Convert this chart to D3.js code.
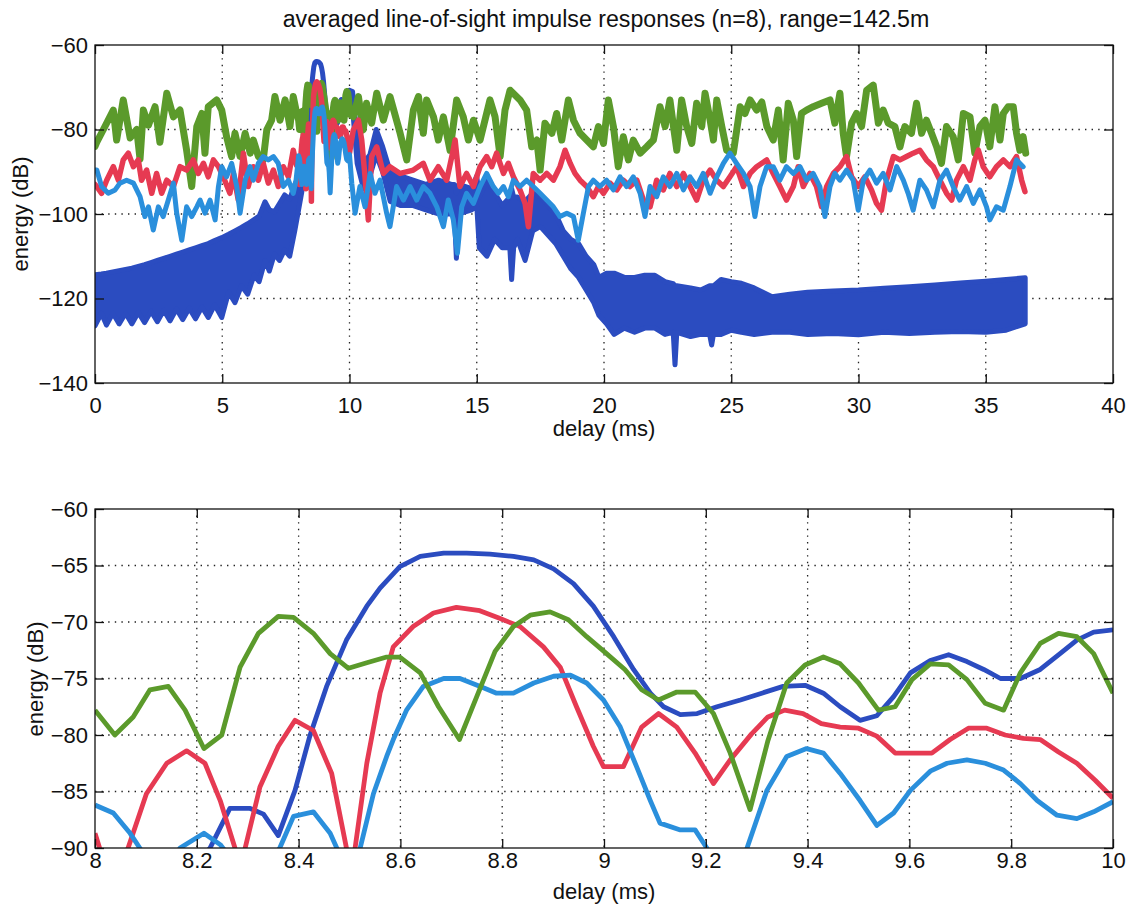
<!DOCTYPE html>
<html><head><meta charset="utf-8">
<script src="https://cdn.jsdelivr.net/npm/d3@7"></script>
<style>
body{margin:0;background:#fff}
svg{display:block}
text{font-family:"Liberation Sans",Arial,Helvetica,sans-serif;fill:#111}
</style>
</head><body>
<svg id="c" width="1128" height="906"></svg>
<script>
// ---------------- DATA ----------------
const titleText = "averaged line-of-sight impulse responses (n=8), range=142.5m";
const xLabel = "delay (ms)";
const yLabel = "energy (dB)";
const topXTicks = [0,5,10,15,20,25,30,35,40];
const topYTicks = [-140,-120,-100,-80,-60];
const botXTicks = [8,8.2,8.4,8.6,8.8,9,9.2,9.4,9.6,9.8,10];
const botYTicks = [-90,-85,-80,-75,-70,-65,-60];

// zoomed window 8..10 ms (used for both panels)
const greenZoom = [[8.0,-77.8],[8.039,-80],[8.075,-78.4],[8.108,-76],[8.144,-75.7],[8.177,-77.8],[8.214,-81.2],[8.249,-80],[8.285,-74],[8.321,-71],[8.36,-69.5],[8.39,-69.6],[8.429,-71],[8.462,-72.8],[8.498,-74.1],[8.534,-73.6],[8.573,-73.1],[8.599,-73.1],[8.639,-74.5],[8.675,-77.5],[8.716,-80.4],[8.75,-76.6],[8.786,-72.6],[8.822,-70.4],[8.855,-69.4],[8.894,-69.1],[8.93,-69.8],[8.966,-71.3],[9.005,-72.8],[9.041,-74.2],[9.074,-76],[9.107,-76.9],[9.143,-76.2],[9.179,-76.2],[9.215,-78.1],[9.248,-81.6],[9.287,-86.6],[9.322,-80.5],[9.359,-75.4],[9.395,-73.8],[9.431,-73.1],[9.464,-73.7],[9.5,-75.4],[9.539,-77.8],[9.572,-77.5],[9.605,-75.1],[9.641,-73.7],[9.677,-73.8],[9.713,-75.1],[9.749,-77.2],[9.785,-77.8],[9.818,-74.5],[9.857,-71.9],[9.893,-71],[9.929,-71.3],[9.962,-72.8],[10.0,-76.3]];
const redZoom = [[8.0,-88.7],[8.03,-93],[8.065,-90],[8.101,-85.2],[8.141,-82.5],[8.18,-81.4],[8.216,-82.5],[8.246,-85.8],[8.275,-90],[8.285,-94],[8.295,-90],[8.324,-84.6],[8.36,-81],[8.393,-78.7],[8.429,-79.6],[8.465,-83.4],[8.494,-90],[8.503,-97],[8.511,-90],[8.534,-82.5],[8.56,-76.3],[8.586,-72.2],[8.625,-70.4],[8.665,-69.2],[8.71,-68.7],[8.756,-69],[8.796,-69.7],[8.835,-70.4],[8.881,-72.2],[8.914,-74],[8.946,-77.5],[8.979,-81],[8.999,-82.8],[9.038,-82.8],[9.074,-79.3],[9.107,-78.1],[9.143,-79.3],[9.179,-81.6],[9.215,-84.3],[9.248,-82.2],[9.29,-79.9],[9.322,-78.4],[9.355,-77.8],[9.391,-78.1],[9.427,-79],[9.464,-79.3],[9.5,-79.4],[9.536,-80.1],[9.572,-81.6],[9.608,-81.6],[9.644,-81.6],[9.68,-80.4],[9.716,-79.4],[9.752,-79.4],[9.788,-80],[9.824,-80.3],[9.857,-80.4],[9.893,-81.5],[9.929,-82.5],[9.965,-84],[10.0,-85.6]];
const darkZoom = [[8.0,-96],[8.1,-94],[8.18,-92.5],[8.226,-90],[8.265,-86.5],[8.305,-86.5],[8.331,-87],[8.36,-88.9],[8.393,-84.9],[8.422,-80.1],[8.455,-75.7],[8.494,-71.6],[8.534,-68.6],[8.56,-67],[8.599,-65.1],[8.639,-64.2],[8.685,-63.9],[8.73,-63.9],[8.776,-64],[8.822,-64.2],[8.862,-64.5],[8.901,-65.3],[8.94,-66.6],[8.979,-68.6],[9.019,-71.3],[9.058,-74.2],[9.091,-76.3],[9.117,-77.5],[9.15,-78.2],[9.183,-78.1],[9.222,-77.5],[9.268,-76.9],[9.31,-76.3],[9.352,-75.7],[9.395,-75.6],[9.431,-76.3],[9.464,-77.5],[9.503,-78.7],[9.536,-78.3],[9.569,-76.6],[9.602,-74.5],[9.641,-73.4],[9.677,-72.9],[9.713,-73.5],[9.746,-74.2],[9.779,-75],[9.818,-75],[9.857,-74.2],[9.896,-72.8],[9.929,-71.6],[9.962,-70.9],[10.0,-70.7]];
const lightZoom = [[8.0,-86.2],[8.036,-86.9],[8.069,-88.7],[8.088,-90],[8.13,-93],[8.167,-90],[8.214,-88.7],[8.246,-89.7],[8.26,-90.5],[8.31,-93],[8.363,-90],[8.39,-87.2],[8.429,-86.8],[8.462,-88.7],[8.475,-90],[8.5,-94],[8.521,-90],[8.547,-85.2],[8.573,-81.9],[8.586,-80.4],[8.612,-77.8],[8.645,-75.7],[8.685,-75],[8.717,-75],[8.757,-75.7],[8.789,-76.3],[8.822,-76.3],[8.862,-75.4],[8.901,-74.8],[8.934,-74.7],[8.966,-75.4],[8.999,-76.9],[9.032,-79.3],[9.064,-82.8],[9.091,-85.8],[9.11,-87.8],[9.15,-88.4],[9.179,-88.4],[9.202,-90],[9.24,-95],[9.281,-90],[9.32,-84.9],[9.359,-81.9],[9.398,-81.2],[9.431,-81.6],[9.464,-83.4],[9.503,-85.8],[9.536,-88],[9.569,-86.9],[9.602,-84.9],[9.641,-83.2],[9.674,-82.5],[9.713,-82.2],[9.749,-82.5],[9.785,-83.1],[9.818,-84.3],[9.851,-85.8],[9.89,-87.1],[9.929,-87.4],[9.962,-86.8],[10.0,-85.9]];

// full 0..36.6 ms panel (outside the 8..10 window)
const greenPre = [[0,-84],[0.07,-83],[0.33,-80],[0.72,-75.4],[0.85,-82.5],[1.11,-73],[1.38,-82],[1.64,-80],[1.77,-87],[1.9,-75.4],[2.1,-79],[2.36,-74.6],[2.55,-83],[2.82,-71.4],[3.08,-77],[3.34,-75.4],[3.6,-84.9],[3.8,-93.5],[4.0,-79.3],[4.2,-76.2],[4.32,-85.6],[4.45,-74.6],[4.78,-73],[4.98,-75.4],[5.17,-81.7],[5.37,-86.4],[5.5,-80.9],[5.7,-86.4],[5.9,-80.9],[6.1,-85.6],[6.22,-82.5],[6.42,-86.4],[6.61,-87.2],[6.75,-80.1],[6.94,-77.8],[7.07,-72.2],[7.27,-77.8],[7.47,-73],[7.66,-79.3],[7.79,-72.2],[7.92,-76]];
const greenPost = [[10.15,-77],[10.35,-72.2],[10.54,-80.1],[10.67,-73.8],[10.87,-78.5],[11.07,-71.4],[11.33,-77.8],[11.59,-72.2],[11.99,-80.9],[12.25,-87.2],[12.51,-75.4],[12.71,-72.2],[12.9,-80.9],[13.03,-73],[13.3,-77],[13.49,-82.5],[13.69,-77],[13.95,-84.9],[14.21,-73],[14.47,-77],[14.67,-82.5],[14.87,-77.8],[15.13,-82.5],[15.52,-73],[15.72,-77],[15.92,-86.4],[16.11,-75.4],[16.31,-70.7],[16.7,-73],[16.96,-75.4],[17.16,-84.1],[17.36,-82.5],[17.49,-89.6],[17.68,-78.5],[17.95,-80.9],[18.14,-76.2],[18.34,-82.5],[18.6,-73],[18.8,-77.8],[19.06,-80.9],[19.32,-82.5],[19.58,-84.1],[19.78,-79.3],[19.98,-83.3],[20.17,-73],[20.37,-79.3],[20.56,-88.8],[20.76,-81.7],[20.96,-87.2],[21.15,-82.5],[21.42,-85.6],[21.68,-84.1],[21.94,-82.5],[22.2,-74.6],[22.4,-79.3],[22.59,-73],[22.73,-79.3],[22.86,-84.9],[23.05,-73],[23.25,-79.3],[23.45,-83.3],[23.64,-73.8],[23.84,-79.3],[23.97,-71.4],[24.17,-77.8],[24.3,-82.5],[24.43,-73],[24.63,-79.3],[24.82,-84.9],[25.08,-85.6],[25.35,-74.6],[25.54,-76.2],[25.74,-73],[26.0,-75.4],[26.2,-73.5],[26.4,-79.3],[26.65,-82.5],[26.85,-75.4],[27.04,-87.2],[27.24,-73.8],[27.44,-77.8],[27.57,-86.4],[27.76,-76.2],[27.96,-75.4],[28.22,-74.6],[28.55,-73.8],[28.88,-73],[29.07,-78.5],[29.27,-71.4],[29.4,-80.9],[29.53,-86.4],[29.73,-78.5],[29.92,-76.2],[30.12,-79.3],[30.32,-70.7],[30.58,-69.5],[30.78,-78.5],[30.97,-75.4],[31.17,-78.5],[31.43,-79.3],[31.63,-84.1],[31.82,-79.3],[32.08,-80.9],[32.28,-73.8],[32.48,-80.9],[32.67,-77.8],[32.87,-80.9],[33.07,-84.1],[33.26,-88],[33.46,-79.3],[33.72,-81.7],[33.92,-87.2],[34.12,-76.2],[34.38,-77],[34.57,-85.6],[34.77,-79.3],[34.97,-77.8],[35.16,-84.1],[35.36,-74.6],[35.56,-82.5],[35.69,-76.2],[35.88,-74.6],[36.08,-74.6],[36.21,-80.9],[36.34,-84.9],[36.47,-81.7],[36.57,-85.6]];
const redPre = [[0,-93],[0.07,-93.5],[0.26,-95.1],[0.46,-92],[0.72,-88.8],[0.92,-92],[1.11,-87.2],[1.31,-85.6],[1.51,-88.8],[1.7,-87.2],[1.83,-92],[2.03,-89.6],[2.23,-95.1],[2.42,-90.4],[2.62,-95.1],[2.82,-92],[3.08,-93.5],[3.34,-88.8],[3.6,-89.6],[3.86,-87.2],[4.06,-90.4],[4.26,-88],[4.45,-91.2],[4.65,-87.2],[4.85,-88.8],[5.04,-91.2],[5.3,-95.1],[5.44,-90.4],[5.63,-96.7],[5.83,-85.6],[6.02,-93.5],[6.22,-88.8],[6.42,-92],[6.61,-88],[6.81,-92.7],[7.01,-89.6],[7.2,-93.5],[7.4,-88.8],[7.6,-91.2],[7.79,-84.9],[7.92,-88.5]];
const redPost = [[10.15,-80.1],[10.35,-77.8],[10.48,-82.5],[10.61,-91.2],[10.74,-101.4],[10.87,-86.4],[11.07,-84.1],[11.33,-90.4],[11.59,-88.8],[11.99,-90.4],[12.51,-89.6],[12.9,-88],[13.16,-92],[13.49,-88.8],[13.82,-92],[14.02,-86.4],[14.15,-82.5],[14.34,-93.5],[14.6,-90.4],[14.87,-93.5],[15.13,-88.8],[15.39,-86.4],[15.59,-88.8],[15.78,-85.6],[16.05,-90.4],[16.24,-88],[16.44,-91.2],[16.7,-94.3],[16.9,-97.5],[17.03,-103],[17.22,-90.4],[17.49,-92],[17.75,-90.4],[18.01,-92],[18.27,-88.8],[18.47,-84.9],[18.67,-88],[18.86,-90.4],[19.06,-92],[19.32,-93.5],[19.58,-95.9],[19.78,-93.5],[19.98,-95.1],[20.24,-92.7],[20.5,-94.3],[20.76,-92],[21.02,-93.5],[21.29,-92],[21.55,-96.7],[21.81,-98.3],[22.07,-92],[22.33,-94.3],[22.59,-90.4],[22.86,-93.5],[23.12,-90.4],[23.38,-93.5],[23.64,-96.7],[23.9,-92],[24.17,-89.6],[24.43,-92],[24.69,-93.5],[24.95,-91.2],[25.21,-88.8],[25.48,-93.5],[25.74,-90.4],[26.0,-88.8],[26.39,-87.2],[26.65,-90.4],[26.91,-93.5],[27.17,-96.7],[27.44,-93.5],[27.63,-88.8],[27.83,-93.5],[28.09,-90.4],[28.35,-93.5],[28.55,-98.3],[28.75,-93.5],[29.01,-90.4],[29.27,-88.8],[29.53,-86.4],[29.73,-91.2],[29.99,-93.5],[30.25,-91.2],[30.51,-94.3],[30.71,-97.5],[30.9,-99.1],[31.1,-92],[31.37,-86.4],[31.63,-87.2],[31.89,-86.4],[32.15,-85.6],[32.41,-84.9],[32.67,-87.2],[32.94,-88.8],[33.2,-92],[33.46,-95.1],[33.66,-96.7],[33.85,-92],[34.12,-88.8],[34.38,-92],[34.57,-87.2],[34.71,-84.9],[34.9,-88.8],[35.16,-91.2],[35.42,-88.8],[35.69,-87.2],[35.95,-88.8],[36.21,-86.4],[36.41,-92],[36.54,-94.7]];
const lightPre = [[0,-89.6],[0.07,-89.6],[0.26,-93.5],[0.52,-95.1],[0.79,-94.3],[0.98,-92.7],[1.24,-92],[1.51,-92.7],[1.77,-95.9],[1.96,-100.6],[2.1,-98.3],[2.29,-103.8],[2.49,-98.3],[2.68,-100.6],[2.88,-96.7],[3.08,-92.7],[3.21,-99.8],[3.41,-106.2],[3.6,-98.3],[3.8,-100.6],[4.0,-98.3],[4.13,-96.7],[4.32,-99.8],[4.52,-96.7],[4.72,-101.4],[4.85,-93.5],[4.98,-88.8],[5.17,-91.2],[5.37,-88],[5.57,-93.5],[5.7,-99.8],[5.9,-92],[6.09,-88.8],[6.22,-92],[6.42,-88],[6.61,-86.4],[6.81,-87.2],[7.01,-86.4],[7.2,-88],[7.4,-93.5],[7.6,-92],[7.79,-95.1],[7.9,-92]];
const lightPost = [[10.09,-92.7],[10.22,-99.8],[10.41,-93.5],[10.61,-98.3],[10.81,-90.4],[11.0,-95.1],[11.2,-92],[11.46,-99.8],[11.59,-103],[11.85,-93.5],[12.12,-96.7],[12.38,-93.5],[12.64,-96.7],[12.9,-93.5],[13.16,-95.1],[13.43,-98.3],[13.69,-103],[13.88,-96.7],[14.08,-101.4],[14.24,-109.3],[14.41,-98.3],[14.6,-95.1],[14.87,-97.5],[15.13,-93.5],[15.39,-90.4],[15.65,-93.5],[15.85,-95.1],[16.05,-93.5],[16.24,-95.9],[16.44,-92],[16.7,-93.5],[16.96,-92],[17.22,-93.5],[17.49,-95.1],[17.75,-96.7],[18.01,-98.3],[18.27,-100.6],[18.54,-99.8],[18.8,-100.6],[18.99,-106.2],[19.19,-99.8],[19.39,-93.5],[19.58,-92],[19.84,-93.5],[20.1,-92],[20.37,-94.3],[20.63,-91.2],[20.89,-93.5],[21.15,-91.2],[21.42,-95.1],[21.61,-100.6],[21.81,-93.5],[22.07,-95.9],[22.33,-91.2],[22.59,-93.5],[22.86,-90.4],[23.12,-94.3],[23.38,-91.2],[23.64,-93.5],[23.9,-90.4],[24.17,-95.1],[24.43,-91.2],[24.69,-88],[24.95,-85.6],[25.21,-88],[25.48,-90.4],[25.74,-93.5],[25.93,-100.6],[26.13,-93.5],[26.39,-88.8],[26.65,-88.8],[26.91,-92],[27.17,-88.8],[27.44,-90.4],[27.7,-88.8],[27.96,-92],[28.22,-90.4],[28.48,-93.5],[28.68,-100.6],[28.88,-93.5],[29.07,-90.4],[29.27,-92],[29.53,-89.6],[29.79,-92],[29.99,-99.1],[30.19,-92],[30.45,-89.6],[30.71,-92.7],[30.97,-90.4],[31.24,-94.3],[31.5,-88.8],[31.76,-92],[31.95,-95.1],[32.15,-99.1],[32.41,-92],[32.67,-94.3],[32.94,-98.3],[33.2,-92],[33.46,-89.6],[33.72,-93.5],[33.98,-96.7],[34.25,-93.5],[34.51,-97.5],[34.77,-94.3],[35.03,-98.3],[35.16,-101.4],[35.42,-98.3],[35.69,-99.1],[35.95,-93.5],[36.21,-87.2],[36.47,-88.8]];
// dark blue: fast-oscillating trace, given as [time, upper, lower] envelope
const darkBandPre = [[0,-114.4,-126.5],[0.25,-114.2,-123.5],[0.45,-114,-126.3],[0.7,-113.7,-123.5],[0.95,-113.4,-126],[1.2,-113.1,-123.5],[1.45,-112.8,-126],[1.7,-112.4,-123.3],[1.95,-112,-125.7],[2.2,-111.5,-123],[2.45,-111,-125.5],[2.7,-110.5,-122.8],[2.95,-110,-125.3],[3.2,-109.5,-122.5],[3.45,-109,-125],[3.7,-108.5,-122.3],[3.95,-108,-124.8],[4.2,-107.5,-122],[4.45,-107,-124.5],[4.7,-106.3,-121.5],[4.98,-105.6,-124.5],[5.25,-104.8,-118.5],[5.5,-104,-121],[5.75,-103.2,-117],[6.0,-102.3,-119],[6.25,-101.3,-114.5],[6.45,-100.5,-116],[6.68,-97.1,-111],[6.85,-99,-113.5],[7.05,-99.5,-109.5],[7.25,-97.5,-111],[7.45,-95.5,-108.5],[7.65,-96.5,-110],[7.85,-93,-104],[8.0,-91,-99],[8.12,-89,-95]];
const darkBandPost = [[10.12,-71,-75],[10.3,-82,-88],[10.55,-88,-94],[10.8,-86,-91],[11.05,-80,-86],[11.3,-84,-90],[11.6,-90,-97],[12.0,-91,-98],[12.5,-92,-98],[13.0,-93,-99],[13.5,-92,-100],[14.0,-93,-100],[14.12,-93,-100],[14.2,-95,-110.5],[14.3,-93,-100],[14.8,-94,-99],[15.0,-91,-98],[15.1,-96,-108],[15.4,-92,-110],[15.7,-95,-106],[16.0,-98,-108],[16.3,-96,-108],[16.37,-94,-115.5],[16.45,-96,-108],[16.6,-96,-106],[16.9,-97,-111],[17.2,-95,-104],[17.5,-96,-103],[17.8,-98,-105],[18.1,-100,-107],[18.4,-104,-110],[18.7,-106,-113],[19.0,-107,-115],[19.3,-110,-118],[19.6,-112,-121],[19.8,-115,-124],[20.1,-114,-126],[20.4,-114,-128.5],[20.8,-115,-127],[21.2,-115,-128],[21.6,-114.5,-127],[22.0,-114.5,-127],[22.4,-116,-128.5],[22.72,-116.5,-128],[22.79,-117,-135.7],[22.86,-117,-128],[23.4,-117.5,-129],[23.8,-118,-128.5],[24.15,-117,-128.5],[24.23,-117,-131],[24.3,-117,-128.5],[24.6,-115.5,-128.5],[25.0,-116,-127.5],[25.4,-116.4,-128],[25.9,-117.5,-128.5],[26.6,-119.6,-128],[27.3,-119,-128],[28.0,-118.5,-128.5],[29.0,-118.2,-128.3],[30.0,-118,-128.6],[31.0,-117.6,-128],[32.0,-117.2,-128.3],[33.0,-116.8,-128],[34.0,-116.3,-127.8],[35.0,-115.9,-128],[35.8,-115.5,-127.5],[36.55,-115.1,-126]];

// ---------------- DRAWING ----------------
const COL = {dark:"#2b4cc0", red:"#e63a52", green:"#5b9a2b", light:"#2a8fdc"};
const FONT = 22;
const svg = d3.select("#c");

const topBox = {l:95, r:1113, t:45, b:383};
const botBox = {l:95, r:1113, t:509, b:848};

const xTop = d3.scaleLinear().domain([0,40]).range([topBox.l, topBox.r]);
const yTop = d3.scaleLinear().domain([-140,-60]).range([topBox.b, topBox.t]);
const xBot = d3.scaleLinear().domain([8,10]).range([botBox.l, botBox.r]);
const yBot = d3.scaleLinear().domain([-90,-60]).range([botBox.b, botBox.t]);

const defs = svg.append("defs");
function clip(id, box){
  defs.append("clipPath").attr("id", id).append("rect")
    .attr("x", box.l).attr("y", box.t).attr("width", box.r-box.l).attr("height", box.b-box.t);
}
clip("clipTop", topBox); clip("clipBot", botBox);

function grid(g, x, y, box, xt, yt){
  const gg = g.append("g").attr("stroke","#222").attr("stroke-width",1.3)
    .attr("stroke-dasharray","1.4,5.2").attr("fill","none");
  xt.filter(v => x(v) > box.l+1 && x(v) < box.r-1).forEach(v => {
    gg.append("line").attr("x1", x(v)).attr("x2", x(v)).attr("y1", box.t).attr("y2", box.b);
  });
  yt.filter(v => y(v) > box.t+1 && y(v) < box.b-1).forEach(v => {
    gg.append("line").attr("y1", y(v)).attr("y2", y(v)).attr("x1", box.l).attr("x2", box.r);
  });
}

function axes(g, x, y, box, xt, yt, xfmt, xpad){
  const style = sel => {
    sel.select(".domain").remove();
    sel.selectAll(".tick line").attr("stroke","#111").attr("stroke-width",1.3);
    sel.selectAll("text").attr("font-size", FONT).attr("fill","#111")
      .attr("font-family",'"Liberation Sans",Arial,Helvetica,sans-serif');
  };
  g.append("g").attr("transform",`translate(0,${box.b})`)
    .call(d3.axisBottom(x).tickValues(xt).tickFormat(xfmt).tickSizeInner(-9).tickSizeOuter(0).tickPadding(xpad))
    .call(style);
  g.append("g").attr("transform",`translate(0,${box.t})`)
    .call(d3.axisTop(x).tickValues(xt).tickFormat("").tickSizeInner(-9).tickSizeOuter(0))
    .call(style);
  g.append("g").attr("transform",`translate(${box.l},0)`)
    .call(d3.axisLeft(y).tickValues(yt).tickSizeInner(-9).tickSizeOuter(0).tickPadding(7))
    .call(style);
  g.append("g").attr("transform",`translate(${box.r},0)`)
    .call(d3.axisRight(y).tickValues(yt).tickFormat("").tickSizeInner(-9).tickSizeOuter(0))
    .call(style);
  g.append("rect").attr("x",box.l).attr("y",box.t).attr("width",box.r-box.l).attr("height",box.b-box.t)
    .attr("fill","none").attr("stroke","#111").attr("stroke-width",1.3);
}

// ---- top panel ----
const gTop = svg.append("g");
grid(gTop, xTop, yTop, topBox, topXTicks, topYTicks);

const inWin = d => d[0] >= 8 && d[0] <= 10;
const darkBand = darkBandPre
  .concat(darkZoom.filter(d => d[0] >= 8.2).map(d => [d[0], d[1], d[1]]))
  .concat(darkBandPost);
const greenFull = greenPre.concat(greenZoom.filter(inWin), greenPost);
const redFull = redPre.concat(redZoom.filter(inWin), redPost);
const lightFull = lightPre.concat(lightZoom.filter(inWin), lightPost);

const pTop = gTop.append("g").attr("clip-path","url(#clipTop)");
pTop.append("path").datum(darkBand)
  .attr("d", d3.area().x(d => xTop(d[0])).y0(d => yTop(d[2])).y1(d => yTop(d[1])))
  .attr("fill", COL.dark).attr("stroke", COL.dark).attr("stroke-width", 5).attr("stroke-linejoin","round");
const lineTop = d3.line().x(d => xTop(d[0])).y(d => yTop(d[1]));
pTop.append("path").datum(greenFull).attr("d", lineTop).attr("fill","none")
  .attr("stroke", COL.green).attr("stroke-width", 7).attr("stroke-linejoin","round").attr("stroke-linecap","round");
pTop.append("path").datum(redFull).attr("d", lineTop).attr("fill","none")
  .attr("stroke", COL.red).attr("stroke-width", 5.5).attr("stroke-linejoin","round").attr("stroke-linecap","round");
pTop.append("path").datum(lightFull).attr("d", lineTop).attr("fill","none")
  .attr("stroke", COL.light).attr("stroke-width", 5).attr("stroke-linejoin","round").attr("stroke-linecap","round");

axes(gTop, xTop, yTop, topBox, topXTicks, topYTicks, d3.format("d"), 14);

// ---- bottom panel ----
const gBot = svg.append("g");
grid(gBot, xBot, yBot, botBox, botXTicks, botYTicks);
const pBot = gBot.append("g").attr("clip-path","url(#clipBot)");
const lineBot = d3.line().x(d => xBot(d[0])).y(d => yBot(d[1]));
[[darkZoom, COL.dark],[redZoom, COL.red],[lightZoom, COL.light],[greenZoom, COL.green]].forEach(([data, c]) => {
  pBot.append("path").datum(data).attr("d", lineBot).attr("fill","none")
    .attr("stroke", c).attr("stroke-width", 4.8).attr("stroke-linejoin","round");
});
axes(gBot, xBot, yBot, botBox, botXTicks, botYTicks, d => d3.format("~g")(d), 4);

// ---- texts ----
const title = svg.append("text").attr("x", 606).attr("y", 27).attr("text-anchor","middle")
  .attr("font-size", FONT).text(titleText);
const tw = title.node().getComputedTextLength();
title.attr("font-size", FONT * 647 / tw);

svg.append("text").attr("x", 604).attr("y", 436).attr("text-anchor","middle").attr("font-size", FONT).text(xLabel);
svg.append("text").attr("x", 604).attr("y", 899).attr("text-anchor","middle").attr("font-size", FONT).text(xLabel);
svg.append("text").attr("transform","translate(28,214) rotate(-90)").attr("text-anchor","middle").attr("font-size", FONT).text(yLabel);
svg.append("text").attr("transform","translate(43,679) rotate(-90)").attr("text-anchor","middle").attr("font-size", FONT).text(yLabel);
</script>
</body></html>
